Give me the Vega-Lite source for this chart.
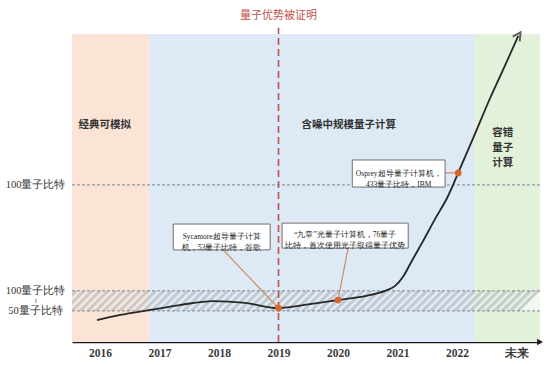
{
  "$schema": "https://vega.github.io/schema/vega-lite/v6.json",
  "width": 468,
  "height": 308,
  "autosize": {"type": "none"},
  "padding": {"left": 72, "top": 34, "right": 9, "bottom": 23},
  "background": "#ffffff",
  "config": {"view": {"stroke": null}},
  "datasets": {
    "bands": [
      {"band": "经典可模拟", "yr": 2015.529, "yr2": 2016.82, "v": 0, "v2": 100},
      {"band": "含噪中规模量子计算", "yr": 2016.82, "yr2": 2022.286, "v": 0, "v2": 100},
      {"band": "容错量子计算", "yr": 2022.286, "yr2": 2023.395, "v": 0, "v2": 100}
    ],
    "hatch": [{"yr": 2015.529, "yr2": 2023.395, "v": 10.1, "v2": 16.6}],
    "hlines": [{"yr": 2015.529, "v": 51.0}, {"yr": 2015.529, "v": 16.6}, {"yr": 2015.529, "v": 10.1}],
    "vline": [{"yr": 2019, "v": 0, "v2": 102}],
    "curve": [
      {"yr": 2015.95, "v": 7.1}, {"yr": 2016.34, "v": 8.8}, {"yr": 2016.84, "v": 10.4},
      {"yr": 2017.34, "v": 12.0}, {"yr": 2017.90, "v": 13.3}, {"yr": 2018.44, "v": 12.7},
      {"yr": 2018.99, "v": 11.0}, {"yr": 2019.53, "v": 12.3}, {"yr": 2020.00, "v": 13.6},
      {"yr": 2020.45, "v": 14.9}, {"yr": 2020.79, "v": 16.6}, {"yr": 2020.96, "v": 18.2},
      {"yr": 2021.09, "v": 21.1}, {"yr": 2021.24, "v": 26.3}, {"yr": 2021.41, "v": 32.1},
      {"yr": 2021.63, "v": 39.9}, {"yr": 2021.85, "v": 47.4}, {"yr": 2022.02, "v": 54.9},
      {"yr": 2022.30, "v": 67.5}, {"yr": 2022.55, "v": 78.9}, {"yr": 2022.81, "v": 89.9},
      {"yr": 2023.03, "v": 99.4}
    ],
    "tip": [{"yr": 2023.03, "v": 99.4}],
    "pts": [{"yr": 2019.0, "v": 11.0}, {"yr": 2020.0, "v": 13.6}, {"yr": 2022.02, "v": 54.9}],
    "conn": [
      {"yr": 2018.07, "v": 29.9, "yr2": 2019.0, "v2": 11.0},
      {"yr": 2020.17, "v": 30.5, "yr2": 2020.0, "v2": 13.6},
      {"yr": 2021.80, "v": 54.9, "yr2": 2022.02, "v2": 54.9}
    ],
    "boxes": [
      {"yr": 2017.23, "yr2": 2018.86, "v": 29.9, "v2": 38.3, "cx": 2018.045, "cy": 34.1, "t": "Sycamore超导量子计算\n机，53量子比特，谷歌"},
      {"yr": 2019.06, "yr2": 2021.18, "v": 30.5, "v2": 38.6, "cx": 2020.12, "cy": 34.6, "t": "“九章”光量子计算机，76量子\n比特，首次使用光子取得量子优势"},
      {"yr": 2020.24, "yr2": 2021.80, "v": 50.3, "v2": 59.1, "cx": 2021.02, "cy": 54.7, "t": "Osprey超导量子计算机，\n433量子比特，IBM"}
    ],
    "bandlabels": [
      {"yr": 2016.08, "v": 70.5, "t": "经典可模拟"},
      {"yr": 2020.18, "v": 70.5, "t": "含噪中规模量子计算"},
      {"yr": 2022.77, "v": 67.9, "t": "容错\n量子\n计算"}
    ],
    "squiggle": [{"yr": 2014.92, "v": 13.2, "t": "≀"}],
    "title": [{"yr": 2019, "v": 105.8, "t": "量子优势被证明"}],
    "axisarrow": [{"yr": 2023.395, "v": 0}]
  },
  "encoding": {
    "x": {
      "field": "yr", "type": "quantitative",
      "scale": {"domain": [2015.529, 2023.395], "nice": false, "zero": false},
      "axis": {
        "title": null, "values": [2016, 2017, 2018, 2019, 2020, 2021, 2022, 2023],
        "format": "d", "labelExpr": "datum.value == 2023 ? '未来' : datum.label",
        "grid": false, "ticks": false, "tickSize": 0, "domainColor": "#1a1a1a", "domainWidth": 1.4,
        "labelFont": "Liberation Serif", "labelFontWeight": "bold", "labelFontSize": 11.5,
        "labelColor": "#3a3a3a", "labelPadding": 5, "labelFlush": false, "labelOverlap": false
      }
    },
    "y": {
      "field": "v", "type": "quantitative",
      "scale": {"domain": [0, 100], "nice": false, "zero": false},
      "axis": {
        "title": null, "values": [51.0, 16.6, 10.1],
        "labelExpr": "datum.value == 10.1 ? '50量子比特' : '100量子比特'",
        "grid": false, "ticks": false, "tickSize": 0, "domain": false,
        "labelFont": "Liberation Serif", "labelFontSize": 10.5,
        "labelColor": "#333333", "labelAlign": "center", "labelBaseline": "middle", "labelPadding": 37,
        "labelOverlap": false, "labelFlush": false
      }
    }
  },
  "layer": [
    {
      "data": {"name": "bands"},
      "mark": {"type": "rect"},
      "encoding": {
        "x2": {"field": "yr2"}, "y2": {"field": "v2"},
        "color": {"field": "band", "type": "nominal", "legend": null,
          "scale": {"domain": ["经典可模拟", "含噪中规模量子计算", "容错量子计算"], "range": ["#fbe4d6", "#dde9f5", "#e3f0da"]}}
      }
    },
    {
      "data": {"name": "hatch"},
      "mark": {"type": "rect", "fill": {
        "gradient": "linear", "x1": 0, "y1": 0, "x2": 1, "y2": 0.0427,
        "stops": [
          {"offset": 0, "color": "rgba(255,255,255,0.6)"}, {"offset": 0.0085, "color": "rgba(125,135,148,0.36)"},
          {"offset": 0.017, "color": "rgba(255,255,255,0.6)"}, {"offset": 0.0255, "color": "rgba(125,135,148,0.36)"},
          {"offset": 0.034, "color": "rgba(255,255,255,0.6)"}, {"offset": 0.0425, "color": "rgba(125,135,148,0.36)"},
          {"offset": 0.051, "color": "rgba(255,255,255,0.6)"}, {"offset": 0.0595, "color": "rgba(125,135,148,0.36)"},
          {"offset": 0.068, "color": "rgba(255,255,255,0.6)"}, {"offset": 0.0765, "color": "rgba(125,135,148,0.36)"},
          {"offset": 0.085, "color": "rgba(255,255,255,0.6)"}, {"offset": 0.0935, "color": "rgba(125,135,148,0.36)"},
          {"offset": 0.102, "color": "rgba(255,255,255,0.6)"}, {"offset": 0.1105, "color": "rgba(125,135,148,0.36)"},
          {"offset": 0.119, "color": "rgba(255,255,255,0.6)"}, {"offset": 0.1275, "color": "rgba(125,135,148,0.36)"},
          {"offset": 0.136, "color": "rgba(255,255,255,0.6)"}, {"offset": 0.1445, "color": "rgba(125,135,148,0.36)"},
          {"offset": 0.153, "color": "rgba(255,255,255,0.6)"}, {"offset": 0.1615, "color": "rgba(125,135,148,0.36)"},
          {"offset": 0.17, "color": "rgba(255,255,255,0.6)"}, {"offset": 0.1785, "color": "rgba(125,135,148,0.36)"},
          {"offset": 0.187, "color": "rgba(255,255,255,0.6)"}, {"offset": 0.1955, "color": "rgba(125,135,148,0.36)"},
          {"offset": 0.204, "color": "rgba(255,255,255,0.6)"}, {"offset": 0.2125, "color": "rgba(125,135,148,0.36)"},
          {"offset": 0.221, "color": "rgba(255,255,255,0.6)"}, {"offset": 0.2295, "color": "rgba(125,135,148,0.36)"},
          {"offset": 0.238, "color": "rgba(255,255,255,0.6)"}, {"offset": 0.2465, "color": "rgba(125,135,148,0.36)"},
          {"offset": 0.255, "color": "rgba(255,255,255,0.6)"}, {"offset": 0.2635, "color": "rgba(125,135,148,0.36)"},
          {"offset": 0.272, "color": "rgba(255,255,255,0.6)"}, {"offset": 0.2805, "color": "rgba(125,135,148,0.36)"},
          {"offset": 0.289, "color": "rgba(255,255,255,0.6)"}, {"offset": 0.2975, "color": "rgba(125,135,148,0.36)"},
          {"offset": 0.306, "color": "rgba(255,255,255,0.6)"}, {"offset": 0.3145, "color": "rgba(125,135,148,0.36)"},
          {"offset": 0.323, "color": "rgba(255,255,255,0.6)"}, {"offset": 0.3315, "color": "rgba(125,135,148,0.36)"},
          {"offset": 0.34, "color": "rgba(255,255,255,0.6)"}, {"offset": 0.3485, "color": "rgba(125,135,148,0.36)"},
          {"offset": 0.357, "color": "rgba(255,255,255,0.6)"}, {"offset": 0.3655, "color": "rgba(125,135,148,0.36)"},
          {"offset": 0.374, "color": "rgba(255,255,255,0.6)"}, {"offset": 0.3825, "color": "rgba(125,135,148,0.36)"},
          {"offset": 0.391, "color": "rgba(255,255,255,0.6)"}, {"offset": 0.3995, "color": "rgba(125,135,148,0.36)"},
          {"offset": 0.408, "color": "rgba(255,255,255,0.6)"}, {"offset": 0.4165, "color": "rgba(125,135,148,0.36)"},
          {"offset": 0.425, "color": "rgba(255,255,255,0.6)"}, {"offset": 0.4335, "color": "rgba(125,135,148,0.36)"},
          {"offset": 0.442, "color": "rgba(255,255,255,0.6)"}, {"offset": 0.4505, "color": "rgba(125,135,148,0.36)"},
          {"offset": 0.459, "color": "rgba(255,255,255,0.6)"}, {"offset": 0.4675, "color": "rgba(125,135,148,0.36)"},
          {"offset": 0.476, "color": "rgba(255,255,255,0.6)"}, {"offset": 0.4845, "color": "rgba(125,135,148,0.36)"},
          {"offset": 0.493, "color": "rgba(255,255,255,0.6)"}, {"offset": 0.5015, "color": "rgba(125,135,148,0.36)"},
          {"offset": 0.51, "color": "rgba(255,255,255,0.6)"}, {"offset": 0.5185, "color": "rgba(125,135,148,0.36)"},
          {"offset": 0.527, "color": "rgba(255,255,255,0.6)"}, {"offset": 0.5355, "color": "rgba(125,135,148,0.36)"},
          {"offset": 0.544, "color": "rgba(255,255,255,0.6)"}, {"offset": 0.5525, "color": "rgba(125,135,148,0.36)"},
          {"offset": 0.561, "color": "rgba(255,255,255,0.6)"}, {"offset": 0.5695, "color": "rgba(125,135,148,0.36)"},
          {"offset": 0.578, "color": "rgba(255,255,255,0.6)"}, {"offset": 0.5865, "color": "rgba(125,135,148,0.36)"},
          {"offset": 0.595, "color": "rgba(255,255,255,0.6)"}, {"offset": 0.6035, "color": "rgba(125,135,148,0.36)"},
          {"offset": 0.612, "color": "rgba(255,255,255,0.6)"}, {"offset": 0.6205, "color": "rgba(125,135,148,0.36)"},
          {"offset": 0.629, "color": "rgba(255,255,255,0.6)"}, {"offset": 0.6375, "color": "rgba(125,135,148,0.36)"},
          {"offset": 0.646, "color": "rgba(255,255,255,0.6)"}, {"offset": 0.6545, "color": "rgba(125,135,148,0.36)"},
          {"offset": 0.663, "color": "rgba(255,255,255,0.6)"}, {"offset": 0.6715, "color": "rgba(125,135,148,0.36)"},
          {"offset": 0.68, "color": "rgba(255,255,255,0.6)"}, {"offset": 0.6885, "color": "rgba(125,135,148,0.36)"},
          {"offset": 0.697, "color": "rgba(255,255,255,0.6)"}, {"offset": 0.7055, "color": "rgba(125,135,148,0.36)"},
          {"offset": 0.714, "color": "rgba(255,255,255,0.6)"}, {"offset": 0.7225, "color": "rgba(125,135,148,0.36)"},
          {"offset": 0.731, "color": "rgba(255,255,255,0.6)"}, {"offset": 0.7395, "color": "rgba(125,135,148,0.36)"},
          {"offset": 0.748, "color": "rgba(255,255,255,0.6)"}, {"offset": 0.7565, "color": "rgba(125,135,148,0.36)"},
          {"offset": 0.765, "color": "rgba(255,255,255,0.6)"}, {"offset": 0.7735, "color": "rgba(125,135,148,0.36)"},
          {"offset": 0.782, "color": "rgba(255,255,255,0.6)"}, {"offset": 0.7905, "color": "rgba(125,135,148,0.36)"},
          {"offset": 0.799, "color": "rgba(255,255,255,0.6)"}, {"offset": 0.8075, "color": "rgba(125,135,148,0.36)"},
          {"offset": 0.816, "color": "rgba(255,255,255,0.6)"}, {"offset": 0.8245, "color": "rgba(125,135,148,0.36)"},
          {"offset": 0.833, "color": "rgba(255,255,255,0.6)"}, {"offset": 0.8415, "color": "rgba(125,135,148,0.36)"},
          {"offset": 0.85, "color": "rgba(255,255,255,0.6)"}, {"offset": 0.8585, "color": "rgba(125,135,148,0.36)"},
          {"offset": 0.867, "color": "rgba(255,255,255,0.6)"}, {"offset": 0.8755, "color": "rgba(125,135,148,0.36)"},
          {"offset": 0.884, "color": "rgba(255,255,255,0.6)"}, {"offset": 0.8925, "color": "rgba(125,135,148,0.36)"},
          {"offset": 0.901, "color": "rgba(255,255,255,0.6)"}, {"offset": 0.9095, "color": "rgba(125,135,148,0.36)"},
          {"offset": 0.918, "color": "rgba(255,255,255,0.6)"}, {"offset": 0.9265, "color": "rgba(125,135,148,0.36)"},
          {"offset": 0.935, "color": "rgba(255,255,255,0.6)"}, {"offset": 0.9435, "color": "rgba(125,135,148,0.36)"},
          {"offset": 0.952, "color": "rgba(255,255,255,0.6)"}, {"offset": 0.9605, "color": "rgba(125,135,148,0.36)"},
          {"offset": 0.969, "color": "rgba(255,255,255,0.6)"}, {"offset": 0.9775, "color": "rgba(125,135,148,0.36)"},
          {"offset": 0.986, "color": "rgba(255,255,255,0.6)"}, {"offset": 0.9945, "color": "rgba(125,135,148,0.36)"},
          {"offset": 1, "color": "rgba(255,255,255,0.6)"}
        ]}},
      "encoding": {"x2": {"field": "yr2"}, "y2": {"field": "v2"}}
    },
    {
      "data": {"name": "hlines"},
      "mark": {"type": "rule", "color": "#7d8893", "strokeDash": [3, 2], "strokeWidth": 1},
      "encoding": {"x": {"field": "yr", "type": "quantitative"}, "x2": {"datum": 2023.395}}
    },
    {
      "data": {"name": "vline"},
      "mark": {"type": "rule", "color": "#c0504d", "strokeDash": [7, 4], "strokeWidth": 1.6},
      "encoding": {"y2": {"field": "v2"}}
    },
    {
      "data": {"name": "curve"},
      "mark": {"type": "line", "color": "#262626", "strokeWidth": 1.8, "interpolate": "monotone"},
      "encoding": {}
    },
    {
      "data": {"name": "tip"},
      "mark": {"type": "point", "shape": "M-1,0.9L0,-1L1,0.9", "filled": false, "stroke": "#262626", "strokeWidth": 2, "size": 70, "angle": 33},
      "encoding": {}
    },
    {
      "data": {"name": "conn"},
      "mark": {"type": "rule", "color": "#c9875a", "strokeWidth": 1.1},
      "encoding": {"x2": {"field": "yr2"}, "y2": {"field": "v2"}}
    },
    {
      "data": {"name": "boxes"},
      "mark": {"type": "rect", "fill": "#ffffff", "stroke": "#6f6f6f", "strokeWidth": 1},
      "encoding": {"x2": {"field": "yr2"}, "y2": {"field": "v2"}}
    },
    {
      "data": {"name": "boxes"},
      "mark": {"type": "text", "lineBreak": "\n", "fontSize": 7.5, "lineHeight": 11, "font": "Liberation Serif", "color": "#222222", "align": "center", "baseline": "middle"},
      "encoding": {"x": {"field": "cx", "type": "quantitative"}, "y": {"field": "cy", "type": "quantitative"}, "text": {"field": "t"}}
    },
    {
      "data": {"name": "pts"},
      "mark": {"type": "point", "filled": true, "color": "#d9662c", "size": 45, "opacity": 1},
      "encoding": {}
    },
    {
      "data": {"name": "bandlabels"},
      "mark": {"type": "text", "lineBreak": "\n", "fontSize": 10.5, "lineHeight": 15, "font": "Noto Sans CJK SC", "fontWeight": "bold", "color": "#333333", "align": "center", "baseline": "middle"},
      "encoding": {"text": {"field": "t"}}
    },
    {
      "data": {"name": "squiggle"},
      "mark": {"type": "text", "fontSize": 7, "font": "DejaVu Sans", "color": "#333333", "align": "center", "baseline": "middle"},
      "encoding": {"text": {"field": "t"}}
    },
    {
      "data": {"name": "title"},
      "mark": {"type": "text", "fontSize": 11, "font": "Noto Sans CJK SC", "color": "#c0504d", "align": "center", "baseline": "middle"},
      "encoding": {"text": {"field": "t"}}
    },
    {
      "data": {"name": "axisarrow"},
      "mark": {"type": "point", "shape": "triangle-right", "filled": true, "color": "#1a1a1a", "size": 45, "opacity": 1},
      "encoding": {}
    }
  ]
}
